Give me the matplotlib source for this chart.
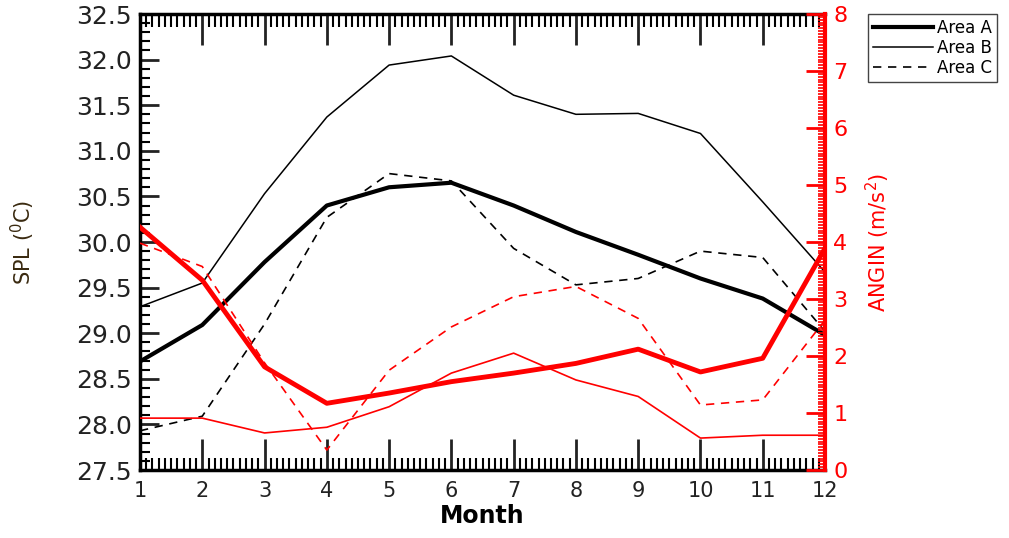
import matplotlib
matplotlib.use('Agg')
import matplotlib.pyplot as plt
from matplotlib.ticker import MultipleLocator

# data
months = [1, 2, 3, 4, 5, 6, 7, 8, 9, 10, 11, 12]

spl_a = [28.69, 29.09, 29.78, 30.40, 30.60, 30.65, 30.40, 30.11, 29.86, 29.60, 29.38, 28.98]
spl_b = [29.29, 29.55, 30.53, 31.37, 31.94, 32.04, 31.61, 31.40, 31.41, 31.19, 30.44, 29.67]
spl_c = [27.93, 28.09, 29.10, 30.27, 30.75, 30.67, 29.93, 29.53, 29.60, 29.90, 29.83, 29.02]

angin_a = [4.26, 3.33, 1.81, 1.17, 1.35, 1.55, 1.70, 1.87, 2.12, 1.72, 1.96, 3.89]
angin_b = [0.91, 0.91, 0.65, 0.75, 1.11, 1.70, 2.05, 1.58, 1.29, 0.56, 0.61, 0.61]
angin_c = [3.98, 3.57, 1.88, 0.35, 1.75, 2.51, 3.04, 3.22, 2.66, 1.14, 1.23, 2.63]

labels = ['Area A', 'Area B', 'Area C']

fig = plt.figure(figsize=(10.09, 5.38), dpi=100)
ax = fig.add_axes([140 / 1009, 68 / 538, 685 / 1009, 456 / 538])
ax2 = ax.twinx()

# black: SPL
la, = ax.plot(months, spl_a, color='black', lw=3.0)
lb, = ax.plot(months, spl_b, color='black', lw=1.1)
lc, = ax.plot(months, spl_c, color='black', lw=1.2, linestyle=(0, (5, 4)))

# red: ANGIN
ax2.plot(months, angin_a, color='red', lw=3.5)
ax2.plot(months, angin_b, color='red', lw=1.2)
ax2.plot(months, angin_c, color='red', lw=1.2, linestyle=(0, (5, 4)))

ax.set_xlim(1, 12)
ax.set_ylim(27.5, 32.5)
ax2.set_ylim(0, 8)

ax.xaxis.set_major_locator(MultipleLocator(1))
ax.xaxis.set_minor_locator(MultipleLocator(0.1))
ax.yaxis.set_major_locator(MultipleLocator(0.5))
ax.yaxis.set_minor_locator(MultipleLocator(0.1))
ax.yaxis.set_major_formatter(matplotlib.ticker.FormatStrFormatter('%.1f'))
ax2.yaxis.set_major_locator(MultipleLocator(1))
ax2.yaxis.set_minor_locator(MultipleLocator(0.05))

ax.tick_params(axis='x', which='major', direction='in', length=22, width=2,
               top=True, labelsize=15, pad=8)
ax.tick_params(axis='x', which='minor', direction='in', length=9, width=1.5, top=True)
ax.tick_params(axis='y', which='major', direction='in', length=14, width=2,
               labelsize=18, pad=6, colors='#222222')
ax.tick_params(axis='y', which='minor', direction='in', length=7, width=1.5)
ax.tick_params(axis='x', colors='#222222')

ax2.tick_params(axis='y', which='major', direction='in', length=14, width=2,
                colors='red', labelsize=16, pad=6)
ax2.tick_params(axis='y', which='minor', direction='in', length=5, width=1.2, colors='red')

for s in ['left', 'bottom', 'top']:
    ax.spines[s].set_linewidth(2.5)
ax2.spines['right'].set_color('red')
ax2.spines['right'].set_linewidth(3)
ax2.spines['left'].set_visible(False)
ax2.spines['top'].set_visible(False)
ax2.spines['bottom'].set_visible(False)
ax.spines['right'].set_visible(False)

ax.set_xlabel('Month', fontsize=17, fontweight='bold', labelpad=2)
ax.set_ylabel('SPL ($^{0}$C)', fontsize=15, color='#3a2a10', labelpad=28)
ax2.set_ylabel('ANGIN (m/s$^{2}$)', fontsize=15, color='red', labelpad=12)

fig.legend([la, lb, lc], labels, loc='upper left',
           bbox_to_anchor=(868 / 1009, 1 - 14 / 538), borderaxespad=0,
           fancybox=False, edgecolor='#444444', framealpha=1, fontsize=12,
           handlelength=3.6, handletextpad=0.25, labelspacing=0.12,
           borderpad=0.3)

fig.savefig('out.png', dpi=100)
